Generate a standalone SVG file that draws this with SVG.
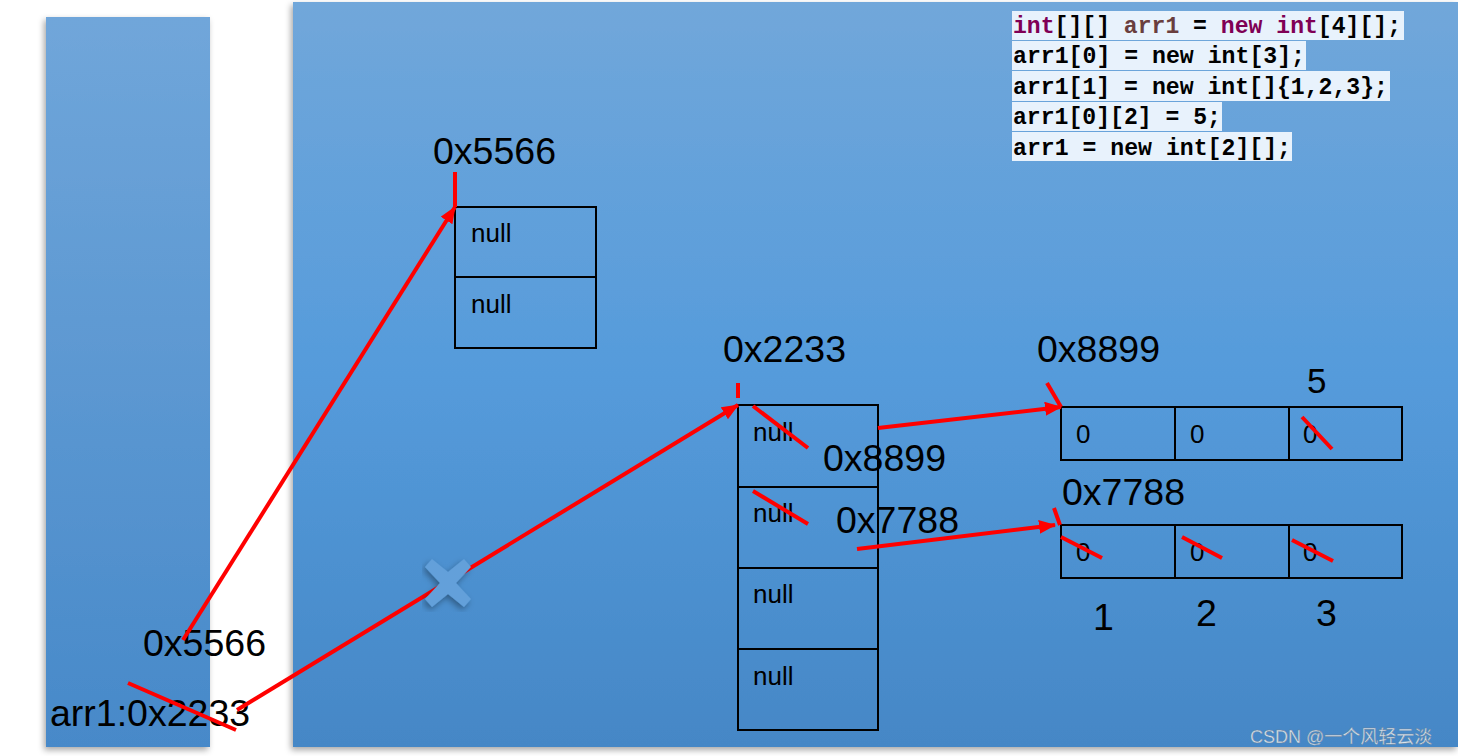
<svg xmlns="http://www.w3.org/2000/svg" width="1458" height="756" viewBox="0 0 1458 756">
<style>
.t{font-family:"Liberation Sans",Arial,sans-serif;fill:#000}
.big{font-size:37.5px}
.sm{font-size:26px}
.box{fill:none;stroke:#000;stroke-width:2}
.red{stroke:#ff0000;stroke-width:4;fill:none}
.code{font-family:"Liberation Mono","DejaVu Sans Mono",monospace;font-size:24px;font-weight:bold;fill:#000}
.hl{fill:#e8f2fc}
.kw{fill:#7f0055}
.var{fill:#6a3e3e}
</style>
<defs>
<linearGradient id="gL" x1="0" y1="0" x2="0" y2="1">
<stop offset="0" stop-color="#70a6da"/>
<stop offset="1" stop-color="#4789c9"/>
</linearGradient>
<linearGradient id="gR" x1="0" y1="0" x2="0" y2="1">
<stop offset="0" stop-color="#71a7da"/>
<stop offset="0.5" stop-color="#559bdb"/>
<stop offset="1" stop-color="#4587c6"/>
</linearGradient>
<filter id="sh" x="-5%" y="-5%" width="115%" height="115%">
<feDropShadow dx="-2" dy="3" stdDeviation="3" flood-color="#000" flood-opacity="0.35"/>
</filter>
<marker id="ah" markerUnits="userSpaceOnUse" markerWidth="20" markerHeight="16" refX="16" refY="7" orient="auto">
<path d="M0,0 L17,7 L0,14 Z" fill="#ff0000"/>
</marker>
</defs>
<rect width="1458" height="756" fill="#fff"/>
<g id="stack-panel"><rect x="46" y="17" width="164" height="730" fill="url(#gL)" filter="url(#sh)"/></g>
<g id="heap-panel"><rect x="293" y="2" width="1165" height="745" fill="url(#gR)" filter="url(#sh)"/></g>

<g id="code">
<rect class="hl" x="1012" y="11" width="392" height="29"/>
<rect class="hl" x="1012" y="41" width="294" height="29"/>
<rect class="hl" x="1012" y="71" width="378" height="30"/>
<rect class="hl" x="1012" y="102" width="210" height="29"/>
<rect class="hl" x="1012" y="132" width="280" height="29"/>
<text class="code" x="1013" y="33" textLength="388" lengthAdjust="spacingAndGlyphs"><tspan class="kw">int</tspan>[][] <tspan class="var">arr1</tspan> = <tspan class="kw">new</tspan> <tspan class="kw">int</tspan>[4][];</text>
<text class="code" x="1013" y="63" textLength="292" lengthAdjust="spacingAndGlyphs">arr1[0] = new int[3];</text>
<text class="code" x="1013" y="94" textLength="375" lengthAdjust="spacingAndGlyphs">arr1[1] = new int[]{1,2,3};</text>
<text class="code" x="1013" y="124" textLength="208" lengthAdjust="spacingAndGlyphs">arr1[0][2] = 5;</text>
<text class="code" x="1013" y="155" textLength="278" lengthAdjust="spacingAndGlyphs">arr1 = new int[2][];</text>
</g>

<g id="stack-vars">
<text class="t big" x="143" y="656">0x5566</text>
<text class="t big" x="50" y="726">arr1:0x2233</text>
</g>

<g id="array-0x5566">
<text class="t big" x="433" y="164">0x5566</text>
<rect class="box" x="455" y="207" width="141" height="141"/>
<line class="box" x1="455" y1="277" x2="596" y2="277"/>
<text class="t sm" x="471" y="242">null</text>
<text class="t sm" x="471" y="313">null</text>
</g>

<g id="array-0x2233">
<text class="t big" x="723" y="362">0x2233</text>
<rect class="box" x="738" y="405" width="140" height="325"/>
<line class="box" x1="738" y1="487" x2="878" y2="487"/>
<line class="box" x1="738" y1="568" x2="878" y2="568"/>
<line class="box" x1="738" y1="649" x2="878" y2="649"/>
<text class="t sm" x="753" y="441">null</text>
<text class="t sm" x="753" y="522">null</text>
<text class="t sm" x="753" y="603">null</text>
<text class="t sm" x="753" y="685">null</text>
<text class="t big" x="823" y="471">0x8899</text>
<text class="t big" x="836" y="533">0x7788</text>
</g>

<g id="array-0x8899">
<text class="t big" x="1037" y="362">0x8899</text>
<text class="t" style="font-size:35px" x="1307" y="393">5</text>
<rect class="box" x="1061" y="407" width="341" height="53"/>
<line class="box" x1="1175" y1="407" x2="1175" y2="460"/>
<line class="box" x1="1289" y1="407" x2="1289" y2="460"/>
<text class="t sm" x="1076" y="443">0</text>
<text class="t sm" x="1190" y="443">0</text>
<text class="t sm" x="1303" y="443">0</text>
</g>

<g id="array-0x7788">
<text class="t big" x="1062" y="505">0x7788</text>
<rect class="box" x="1061" y="525" width="341" height="53"/>
<line class="box" x1="1175" y1="525" x2="1175" y2="578"/>
<line class="box" x1="1289" y1="525" x2="1289" y2="578"/>
<text class="t sm" x="1076" y="561">0</text>
<text class="t sm" x="1190" y="561">0</text>
<text class="t sm" x="1303" y="561">0</text>
<text class="t big" x="1093" y="630">1</text>
<text class="t big" x="1196" y="626">2</text>
<text class="t big" x="1316" y="626">3</text>
</g>

<g id="connectors">
<line class="red" x1="183" y1="640" x2="455" y2="207" marker-end="url(#ah)"/>
<line class="red" x1="455" y1="172" x2="455" y2="207"/>
<line class="red" x1="237" y1="710" x2="738" y2="405" marker-end="url(#ah)"/>
<line class="red" x1="738" y1="383" x2="738" y2="398"/>
<line class="red" x1="128" y1="683" x2="236" y2="730"/>
<line class="red" x1="753" y1="406" x2="808" y2="448"/>
<line class="red" x1="753" y1="491" x2="808" y2="524"/>
<line class="red" x1="878" y1="428" x2="1061" y2="407" marker-end="url(#ah)"/>
<line class="red" x1="1047" y1="383" x2="1061" y2="407"/>
<line class="red" x1="857" y1="549" x2="1055" y2="525" marker-end="url(#ah)"/>
<line class="red" x1="1054" y1="508" x2="1060" y2="525"/>
<line class="red" x1="1302" y1="417" x2="1332" y2="449"/>
<line class="red" x1="1061" y1="537" x2="1102" y2="558"/>
<line class="red" x1="1182" y1="537" x2="1222" y2="558"/>
<line class="red" x1="1292" y1="540" x2="1333" y2="561"/>
</g>

<g id="cross-mark" filter="url(#sh)">
<path d="M448,583 m-23,-16 l7,-8 l16,13 l16,-13 l7,8 l-15,16 l15,16 l-7,8 l-16,-13 l-16,13 l-7,-8 l15,-16 Z" fill="#63a0da"/>
</g>

<text x="1250" y="743" style="font-family:'Liberation Sans','Noto Sans CJK SC',sans-serif;font-size:18px;fill:#d8e4f0;stroke:#6a7f95;stroke-width:0.4">CSDN @一个风轻云淡</text>
</svg>
